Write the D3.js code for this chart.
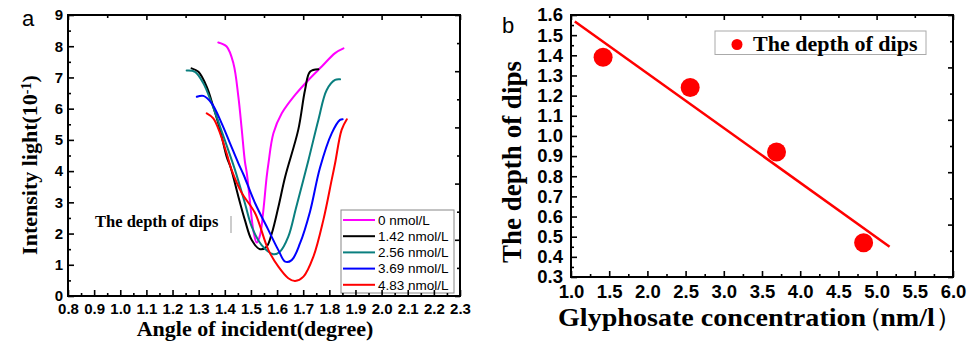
<!DOCTYPE html>
<html>
<head>
<meta charset="utf-8">
<script src="https://cdn.jsdelivr.net/npm/d3@7"></script>
<style>
  body { margin: 0; background: #fff; }
  svg { display: block; }
</style>
</head>
<body>
<svg id="chart" width="967" height="342"></svg>
<script>
// PANEL A DATA (angle in degree, intensity in 10^-1)
const seriesNames = ['0 nmol/L', '1.42 nmol/L', '2.56 nmol/L', '3.69 nmol/L', '4.83 nmol/L'];
const seriesColors = ['#ff00ff', '#000000', '#0a7f7f', '#0000ff', '#ff0000'];

const angle0 = [1.375, 1.407, 1.433, 1.452, 1.465, 1.477, 1.484, 1.497, 1.509, 1.522, 1.535, 1.547, 1.56, 1.567, 1.586, 1.618, 1.669, 1.72, 1.771, 1.822, 1.854];
const intensity0 = [8.12, 7.99, 7.45, 6.38, 5.32, 4.3, 3.95, 2.97, 2.11, 1.71, 1.95, 2.7, 3.8, 4.25, 5.21, 5.85, 6.44, 6.92, 7.35, 7.78, 7.93];

const angle142 = [1.273, 1.299, 1.331, 1.356, 1.382, 1.407, 1.423, 1.452, 1.477, 1.503, 1.535, 1.56, 1.58, 1.605, 1.631, 1.681, 1.707, 1.726, 1.758];
const intensity142 = [7.29, 7.18, 6.70, 6.06, 5.32, 4.46, 4.1, 3.18, 2.43, 1.79, 1.50, 1.58, 2.01, 2.85, 3.82, 5.32, 6.6, 7.18, 7.26];

const angle256 = [1.254, 1.286, 1.318, 1.35, 1.382, 1.413, 1.439, 1.477, 1.503, 1.541, 1.586, 1.611, 1.643, 1.672, 1.72, 1.758, 1.79, 1.822, 1.841];
const intensity256 = [7.22, 7.18, 6.81, 6.17, 5.42, 4.68, 4.04, 2.97, 2.22, 1.63, 1.34, 1.42, 1.90, 2.8, 4.35, 5.64, 6.6, 6.92, 6.94];

const angle369 = [1.293, 1.318, 1.35, 1.388, 1.42, 1.452, 1.471, 1.516, 1.567, 1.605, 1.631, 1.656, 1.688, 1.726, 1.764, 1.809, 1.841, 1.851];
const intensity369 = [6.38, 6.41, 6.17, 5.53, 4.89, 4.25, 3.9, 2.97, 2.11, 1.47, 1.10, 1.15, 1.69, 2.7, 4.1, 5.21, 5.64, 5.66];

const angle483 = [1.331, 1.356, 1.382, 1.407, 1.426, 1.465, 1.516, 1.567, 1.605, 1.643, 1.669, 1.701, 1.739, 1.777, 1.809, 1.822, 1.847, 1.867];
const intensity483 = [5.85, 5.69, 5.21, 4.57, 4.04, 3.3, 2.65, 1.47, 0.94, 0.57, 0.48, 0.62, 1.26, 2.43, 3.72, 4.25, 5.32, 5.66];

const anglesA = [angle0, angle142, angle256, angle369, angle483];
const intensitiesA = [intensity0, intensity142, intensity256, intensity369, intensity483];

const xTicksA = [0.8, 0.9, 1.0, 1.1, 1.2, 1.3, 1.4, 1.5, 1.6, 1.7, 1.8, 1.9, 2.0, 2.1, 2.2, 2.3];
const yTicksA = [0, 1, 2, 3, 4, 5, 6, 7, 8, 9];

// PANEL B DATA
const concentration = [1.42, 2.56, 3.69, 4.83];
const dipDepth = [1.39, 1.24, 0.92, 0.47];
const fitRange = [1.05, 5.17];
const xTicksB = [1.0, 1.5, 2.0, 2.5, 3.0, 3.5, 4.0, 4.5, 5.0, 5.5, 6.0];
const yTicksB = [0.3, 0.4, 0.5, 0.6, 0.7, 0.8, 0.9, 1.0, 1.1, 1.2, 1.3, 1.4, 1.5, 1.6];

const svg = d3.select('#chart');
const serif = '"Liberation Serif", "Times New Roman", serif';
const sans = '"Liberation Sans", Arial, sans-serif';

// SCALES
const xA = d3.scaleLinear().domain([0.8, 2.3]).range([68, 460]);
const yA = d3.scaleLinear().domain([0, 9]).range([296, 15]);
const xB = d3.scaleLinear().domain([1.0, 6.0]).range([571, 953]);
const yB = d3.scaleLinear().domain([0.3, 1.6]).range([277, 15]);

// ---------------- PANEL A MARKS ----------------
const curve = d3.line()
  .x(d => xA(d[0]))
  .y(d => yA(d[1]))
  .curve(d3.curveCatmullRom.alpha(0.5));

anglesA.forEach((angles, s) => {
  const pts = angles.map((a, i) => [a, intensitiesA[s][i]]);
  svg.append('path')
    .datum(pts)
    .attr('d', curve)
    .attr('fill', 'none')
    .attr('stroke', seriesColors[s])
    .attr('stroke-width', 2)
    .attr('stroke-linejoin', 'round')
    .attr('stroke-linecap', 'round');
});

// legend a
svg.append('rect')
  .attr('x', 341).attr('y', 210).attr('width', 113).attr('height', 83)
  .attr('fill', '#fff').attr('stroke', '#888').attr('stroke-width', 1);
seriesNames.forEach((name, i) => {
  const yy = 220 + i * 16.2;
  svg.append('line')
    .attr('x1', 343).attr('x2', 375).attr('y1', yy).attr('y2', yy)
    .attr('stroke', seriesColors[i]).attr('stroke-width', 2);
  svg.append('text')
    .attr('x', 378).attr('y', yy).attr('dy', '0.35em')
    .style('font-family', sans).style('font-size', '13.5px')
    .text(name);
});

// annotation
svg.append('text')
  .attr('x', 95).attr('y', 227)
  .style('font-family', serif).style('font-weight', 'bold').style('font-size', '16.5px')
  .text('The depth of dips');
svg.append('line')
  .attr('x1', 231).attr('x2', 231).attr('y1', 216).attr('y2', 233)
  .attr('stroke', '#999').attr('stroke-width', 1);

// titles a
svg.append('text')
  .attr('x', 255).attr('y', 336).attr('text-anchor', 'middle')
  .style('font-family', serif).style('font-weight', 'bold').style('font-size', '22px')
  .text('Angle of incident(degree)');

const yTitleA = svg.append('text')
  .attr('transform', 'translate(37,165) rotate(-90)')
  .attr('text-anchor', 'middle')
  .style('font-family', serif).style('font-weight', 'bold').style('font-size', '22px');
yTitleA.append('tspan').text('Intensity light(10');
yTitleA.append('tspan').attr('dy', '-0.45em').style('font-size', '14px').text('-1');
yTitleA.append('tspan').attr('dy', '0.3em').text(')');

svg.append('text')
  .attr('x', 22).attr('y', 26)
  .style('font-family', sans).style('font-size', '22px')
  .text('a');

// ---------------- PANEL B MARKS ----------------
// least squares fit of the dips
const mx = d3.mean(concentration), my = d3.mean(dipDepth);
const slope = d3.sum(concentration, (c, i) => (c - mx) * (dipDepth[i] - my)) /
              d3.sum(concentration, c => (c - mx) * (c - mx));
const intercept = my - slope * mx;

svg.append('line')
  .attr('x1', xB(fitRange[0])).attr('y1', yB(intercept + slope * fitRange[0]))
  .attr('x2', xB(fitRange[1])).attr('y2', yB(intercept + slope * fitRange[1]))
  .attr('stroke', '#ff0000').attr('stroke-width', 2.5);

svg.selectAll('.dot')
  .data(concentration)
  .enter()
  .append('circle')
  .attr('class', 'dot')
  .attr('cx', d => xB(d))
  .attr('cy', (d, i) => yB(dipDepth[i]))
  .attr('r', 9.5)
  .attr('fill', '#ff0000');

// legend b
svg.append('rect')
  .attr('x', 715).attr('y', 31).attr('width', 211).attr('height', 23.5)
  .attr('fill', '#fff').attr('stroke', '#aaa').attr('stroke-width', 1);
svg.append('circle')
  .attr('cx', 737).attr('cy', 44.5).attr('r', 5.5).attr('fill', '#ff0000');
svg.append('text')
  .attr('x', 753).attr('y', 50.5)
  .style('font-family', serif).style('font-weight', 'bold').style('font-size', '22px')
  .text('The depth of dips');

// titles b
const xTitleB = svg.append('text')
  .attr('x', 558).attr('y', 326)
  .attr('textLength', 405).attr('lengthAdjust', 'spacingAndGlyphs')
  .style('font-family', serif).style('font-weight', 'bold').style('font-size', '26px');
xTitleB.append('tspan').text('Glyphosate concentration');
xTitleB.append('tspan').attr('dx', -10).style('font-weight', 'normal').text('（');
xTitleB.append('tspan').attr('dx', -3).text('nm/l');
xTitleB.append('tspan').style('font-weight', 'normal').text('）');

svg.append('text')
  .attr('transform', 'translate(521,162) rotate(-90)')
  .attr('text-anchor', 'middle')
  .style('font-family', serif).style('font-weight', 'bold').style('font-size', '27px')
  .text('The depth of dips');

svg.append('text')
  .attr('x', 502).attr('y', 33)
  .style('font-family', sans).style('font-size', '22px')
  .text('b');

// ---------------- AXES (drawn last, ticks inward) ----------------
function tickAxis(axis, tr, size, values) {
  const a = svg.append('g')
    .attr('transform', tr)
    .call(axis.tickValues(values).tickSize(-size).tickFormat(''));
  a.select('.domain').remove();
  a.selectAll('line').attr('stroke', '#000').attr('stroke-width', 1.6);
}

function labelAxis(axis, tr, values, fmt, pad, fontSize) {
  const a = svg.append('g')
    .attr('transform', tr)
    .call(axis.tickValues(values).tickSize(-6).tickPadding(pad).tickFormat(fmt));
  a.select('.domain').remove();
  a.attr('font-family', sans).attr('font-size', fontSize).attr('font-weight', 'bold');
  a.selectAll('line').attr('stroke', '#000').attr('stroke-width', 1.6);
  a.selectAll('text').attr('fill', '#000');
}

function drawFrame(x, y, opt) {
  const [xa, xb] = x.range();
  const [ya, yb] = y.range();
  const xd = x.domain(), yd = y.domain();
  const topVals = d3.range(11).map(i => xd[0] + (xd[1] - xd[0]) * i / 10);
  const rightVals = d3.range(11).map(i => yd[0] + (yd[1] - yd[0]) * i / 10);

  tickAxis(d3.axisBottom(x), `translate(0,${ya})`, 3, opt.xMinor);
  tickAxis(d3.axisLeft(y), `translate(${xa},0)`, 3, opt.yMinor);
  tickAxis(d3.axisTop(x), `translate(0,${yb})`, 5, topVals.filter((d, i) => i % 2 == 0));
  tickAxis(d3.axisTop(x), `translate(0,${yb})`, 3, topVals.filter((d, i) => i % 2 == 1));
  tickAxis(d3.axisRight(y), `translate(${xb},0)`, 5, rightVals.filter((d, i) => i % 2 == 0));
  tickAxis(d3.axisRight(y), `translate(${xb},0)`, 3, rightVals.filter((d, i) => i % 2 == 1));

  labelAxis(d3.axisBottom(x), `translate(0,${ya})`, opt.xTicks, opt.fmtX, opt.xPad, opt.fontSize);
  labelAxis(d3.axisLeft(y), `translate(${xa},0)`, opt.yTicks, opt.fmtY, opt.yPad, opt.fontSize);

  svg.append('path')
    .attr('d', `M${xa},${yb}H${xb}V${ya}H${xa}Z`)
    .attr('fill', 'none')
    .attr('stroke', '#000')
    .attr('stroke-width', 2);
}

drawFrame(xA, yA, {
  xTicks: xTicksA, xMinor: xTicksA.slice(0, -1).map(d => d + 0.05),
  yTicks: yTicksA, yMinor: yTicksA.slice(0, -1).map(d => d + 0.5),
  fmtX: d3.format('.1f'), fmtY: d3.format('d'),
  xPad: 7, yPad: 5, fontSize: 15
});

drawFrame(xB, yB, {
  xTicks: xTicksB, xMinor: xTicksB.slice(0, -1).map(d => d + 0.25),
  yTicks: yTicksB, yMinor: yTicksB.slice(0, -1).map(d => d + 0.05),
  fmtX: d3.format('.1f'), fmtY: d3.format('.1f'),
  xPad: 8, yPad: 8, fontSize: 18.5
});
</script>
</body>
</html>
